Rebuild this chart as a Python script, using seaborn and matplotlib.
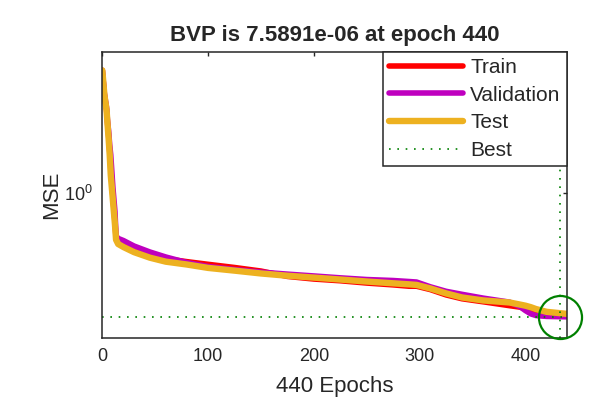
import numpy as np
import pandas as pd
import matplotlib
matplotlib.use("Agg")
import matplotlib.pyplot as plt
import seaborn as sns
from matplotlib.ticker import NullLocator, FixedLocator, LogFormatterSciNotation

# ---- data ----
epochs = [0, 2, 4, 5, 6, 7, 8, 10, 12, 13, 15, 20, 30, 45, 60, 80, 100, 125, 150,
          175, 200, 225, 250, 275, 290, 297, 310, 325, 340, 360, 385, 395, 400,
          405, 410, 420, 439]
train = [6.6, 4.5, 3.6, 2.9, 2.4, 1.9, 1.45, 0.95, 0.64, 0.50, 0.468, 0.445, 0.412,
         0.382, 0.366, 0.350, 0.336, 0.320, 0.303, 0.279, 0.268, 0.261, 0.252,
         0.245, 0.240, 0.240, 0.228, 0.210, 0.198, 0.189, 0.178, 0.174, 0.170,
         0.167, 0.164, 0.160, 0.155]
validation = [6.6, 4.6, 3.75, 3.0, 2.6, 2.1, 1.8, 1.1, 0.75, 0.52, 0.50, 0.484,
              0.445, 0.406, 0.376, 0.345, 0.325, 0.310, 0.298, 0.289, 0.281, 0.273,
              0.266, 0.262, 0.258, 0.256, 0.238, 0.222, 0.212, 0.200, 0.188, 0.175,
              0.165, 0.157, 0.153, 0.151, 0.150]
test = [6.6, 4.5, 3.6, 2.85, 2.3, 1.8, 1.32, 0.90, 0.615, 0.49, 0.459, 0.438, 0.405,
        0.372, 0.350, 0.335, 0.318, 0.305, 0.292, 0.282, 0.274, 0.266, 0.258, 0.251,
        0.247, 0.245, 0.232, 0.215, 0.202, 0.193, 0.187, 0.181, 0.178, 0.174, 0.169,
        0.162, 0.157]
best_epoch = 433
best_value = 0.1505
title_text = "BVP is 7.5891e-06 at epoch 440"
x_label = "440 Epochs"
y_label = "MSE"
x_ticks = [0, 100, 200, 300, 400]
y_ticks = [1.0]

df = pd.DataFrame({"epoch": epochs, "Train": train, "Validation": validation, "Test": test})

sns.set_style("white")
plt.rcParams["font.family"] = ["Liberation Sans", "DejaVu Sans"]
plt.rcParams["mathtext.default"] = "regular"

fig = plt.figure(figsize=(5.89, 4.16), dpi=100)
ax = fig.add_axes([0.1737, 0.1875, 0.7885, 0.6882])

c_train = "#ff0000"
c_val = "#bf00bf"
c_test = "#edb120"
c_best = "#008000"

sns.lineplot(data=df, x="epoch", y="Train", ax=ax, color=c_train, lw=4, label="Train")
sns.lineplot(data=df, x="epoch", y="Validation", ax=ax, color=c_val, lw=4, label="Validation")
sns.lineplot(data=df, x="epoch", y="Test", ax=ax, color=c_test, lw=4.6, label="Test")
ax.axhline(best_value, color=c_best, lw=1.2, ls=(0, (1, 4)), label="Best")
ax.axvline(best_epoch, color=c_best, lw=1.2, ls=(0, (1, 4)))
ax.plot([best_epoch], [best_value], marker="o", ms=31, mfc="none", mec=c_best,
        mew=1.6, clip_on=False, zorder=5)

ax.set_yscale("log")
ax.set_xlim(0, 439)
ax.set_ylim(0.1084, 8.79)
ax.xaxis.set_major_locator(FixedLocator(x_ticks))
ax.yaxis.set_major_locator(FixedLocator(y_ticks))
ax.yaxis.set_major_formatter(LogFormatterSciNotation())
ax.yaxis.set_minor_locator(NullLocator())
ax.xaxis.set_minor_locator(NullLocator())
ax.tick_params(direction="in", top=True, right=True, length=3, width=1,
               labelsize=13, colors="#262626", pad=7)
for s in ax.spines.values():
    s.set_color("#262626")
    s.set_linewidth(1.1)

ax.set_title(title_text, fontsize=16, fontweight="bold", pad=8, color="#262626")
ax.set_xlabel(x_label, fontsize=16, color="#262626", labelpad=8)
ax.set_ylabel(y_label, fontsize=16, color="#262626", labelpad=1)

leg = ax.legend(loc="upper right", bbox_to_anchor=(1, 1), borderaxespad=0,
                fontsize=15, handlelength=3.55, handletextpad=0.33,
                labelspacing=0.42, borderpad=0.3, fancybox=False, framealpha=1,
                edgecolor="#262626")
leg.get_frame().set_linewidth(1.1)
leg.set_zorder(10)

fig.savefig("out.png", dpi=100)
